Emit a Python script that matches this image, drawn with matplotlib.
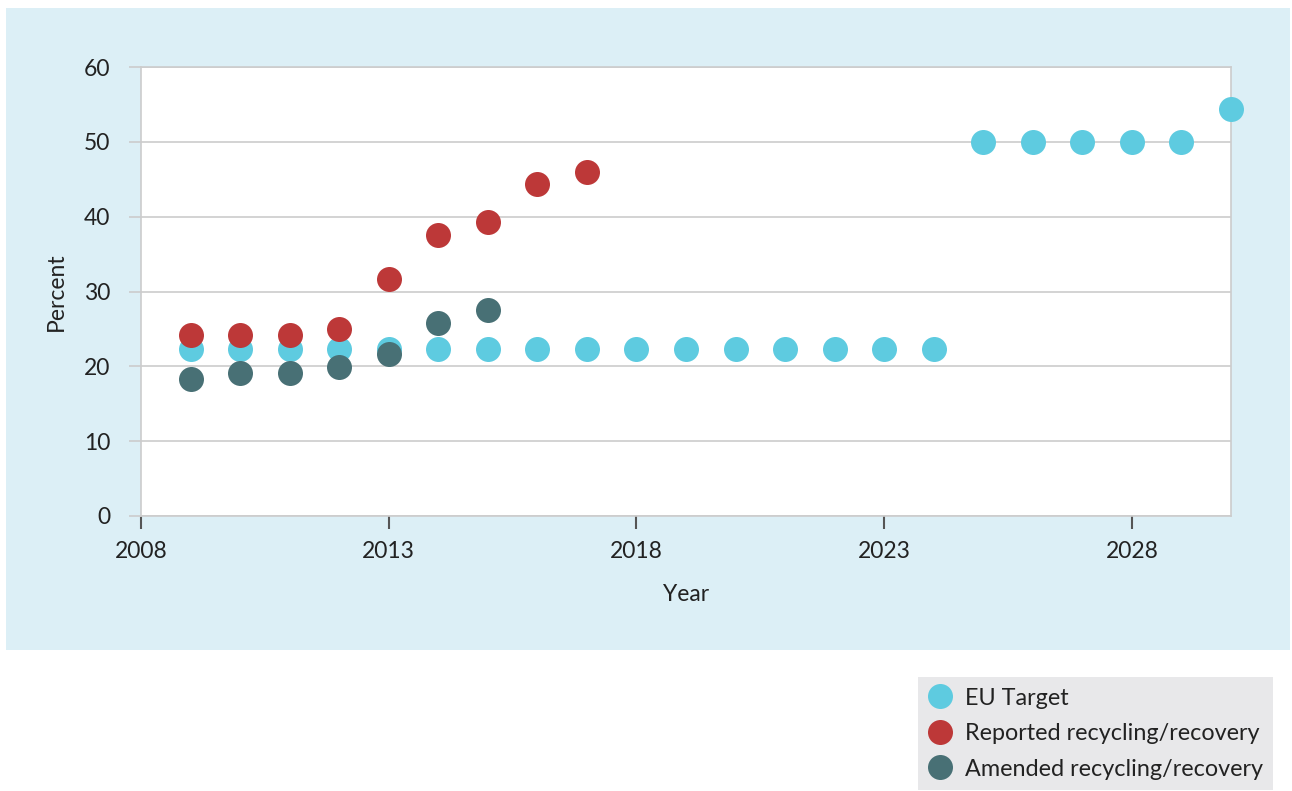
import matplotlib
matplotlib.use("Agg")
import matplotlib.pyplot as plt
from matplotlib.patches import Rectangle
from matplotlib.lines import Line2D

# -- Data ---------------------------------------------------------------------
target_years  = list(range(2009, 2031))
target_values = [22.3] * 16 + [50.0] * 5 + [54.4]

reported_years  = list(range(2009, 2018))
reported_values = [24.2, 24.2, 24.2, 25.0, 31.7, 37.6, 39.3, 44.3, 46.0]

amended_years  = list(range(2009, 2016))
amended_values = [18.3, 19.1, 19.1, 19.9, 21.6, 25.8, 27.5]

x_ticks = [2008, 2013, 2018, 2023, 2028]
y_ticks = [0, 10, 20, 30, 40, 50, 60]

# -- Colours ------------------------------------------------------------------
EU_BLUE   = "#5ECBE0"
RED       = "#BD3838"
DARK_TEAL = "#487075"
PANEL_BG  = "#DCEFF6"
LEGEND_BG = "#E8E8EA"
GRID      = "#CCCCCC"
TEXT      = "#222222"

plt.rcParams["font.family"] = ["Lato", "DejaVu Sans"]

fig = plt.figure(figsize=(12.92, 7.91), dpi=100)
fig.patch.set_facecolor("white")

# light blue panel behind the chart
panel = Rectangle((6 / 1292, 1 - 650 / 791), 1284 / 1292, 642 / 791,
                  transform=fig.transFigure, facecolor=PANEL_BG,
                  edgecolor="none", zorder=-5)
fig.add_artist(panel)

ax = fig.add_axes([141 / 1292, 1 - 516 / 791, 1090 / 1292, 449 / 791])
ax.set_facecolor("white")

ax.scatter(target_years, target_values, s=324, color=EU_BLUE, linewidths=0,
           clip_on=False, zorder=3)
ax.scatter(reported_years, reported_values, s=324, color=RED, linewidths=0,
           clip_on=False, zorder=4)
ax.scatter(amended_years, amended_values, s=324, color=DARK_TEAL, linewidths=0,
           clip_on=False, zorder=5)

ax.set_xlim(2008, 2030)
ax.set_ylim(0, 60)
ax.set_xticks(x_ticks)
ax.set_yticks(y_ticks)
ax.grid(axis="y", color=GRID, linewidth=1.2)
ax.set_axisbelow(True)

for side in ["top", "right", "left", "bottom"]:
    ax.spines[side].set_color(GRID)
    ax.spines[side].set_linewidth(1.2)

ax.tick_params(axis="y", length=9, width=1.2, color=GRID, pad=13,
               labelsize=16.5, labelcolor=TEXT)
ax.tick_params(axis="x", length=9, width=1.5, color="#555555", pad=9,
               labelsize=16.5, labelcolor=TEXT)

ax.set_ylabel("Percent", fontsize=16.5, color=TEXT, labelpad=12)
ax.set_xlabel("Year", fontsize=16.5, color=TEXT, labelpad=16)

# -- Legend -------------------------------------------------------------------
handles = [
    Line2D([], [], linestyle="none", marker="o", markersize=18,
           markerfacecolor=c, markeredgewidth=0, label=l)
    for c, l in [(EU_BLUE, "EU Target"),
                 (RED, "Reported recycling/recovery"),
                 (DARK_TEAL, "Amended recycling/recovery")]
]
leg = fig.legend(handles=handles, loc="lower left",
                 bbox_to_anchor=(918 / 1292, 1 / 791),
                 frameon=True, fancybox=False, fontsize=16.8,
                 labelcolor=TEXT, handlelength=1.0, handletextpad=0.55,
                 labelspacing=0.62, borderpad=0.45, borderaxespad=0)
leg.get_frame().set_facecolor(LEGEND_BG)
leg.get_frame().set_edgecolor("none")
leg.get_frame().set_alpha(1)

fig.savefig("out.png", dpi=100, facecolor=fig.get_facecolor())
